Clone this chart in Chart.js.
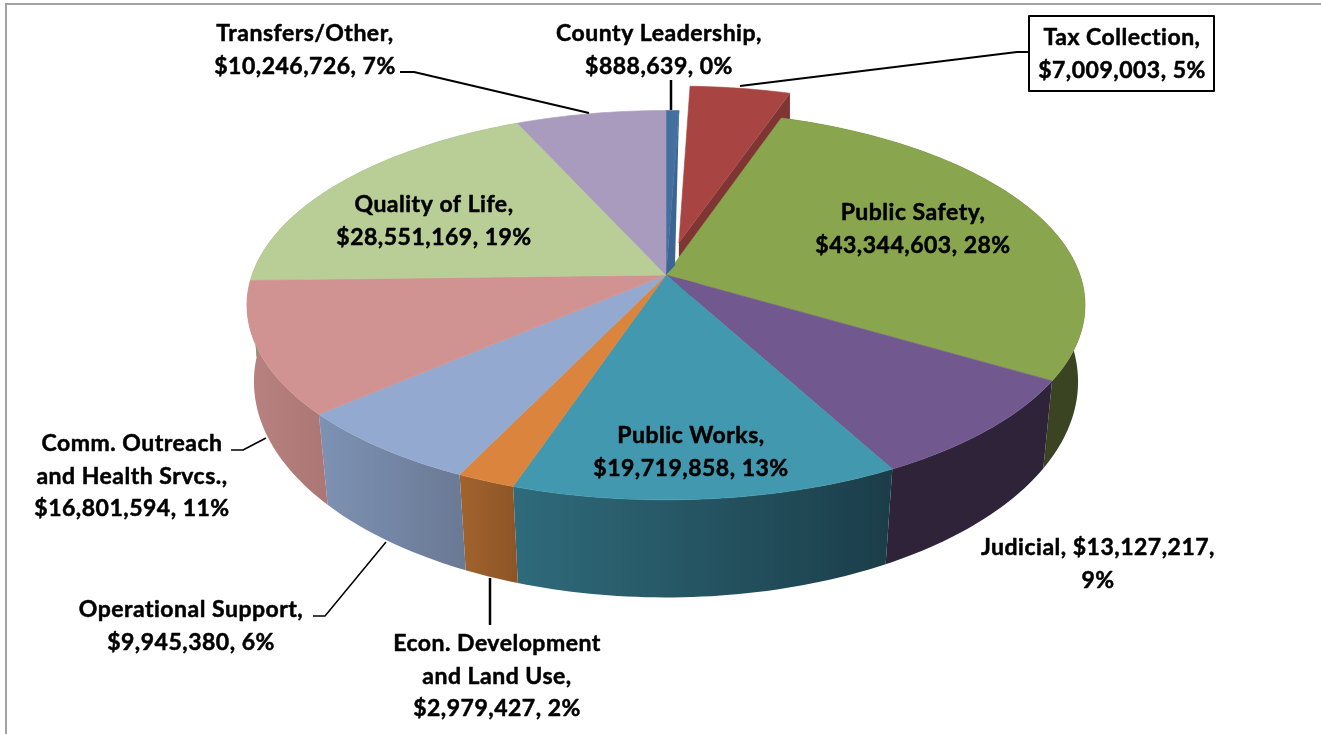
<!DOCTYPE html>
<html>
<head>
<meta charset="utf-8">
<title>County budget by function</title>
<script src="https://cdn.jsdelivr.net/npm/chart.js@4"></script>
<style>
  html, body { margin: 0; padding: 0; background: #fff; }
  canvas { display: block; }
</style>
</head>
<body>
<canvas id="budgetChart" width="1321" height="734"></canvas>
<script>
// Data
const categories = ['County Leadership', 'Tax Collection', 'Public Safety', 'Judicial', 'Public Works',
  'Econ. Development\nand Land Use', 'Operational Support', 'Comm. Outreach\nand Health Srvcs.', 'Quality of Life', 'Transfers/Other'];
const amounts = [888639, 7009003, 43344603, 13127217, 19719858, 2979427, 9945380, 16801594, 28551169, 10246726];
const percents = [0, 5, 28, 9, 13, 2, 6, 11, 19, 7];

// Colours
const faceColors = ['#44709f', '#a84442', '#89a54e', '#71588f', '#4198af', '#db843d', '#93a9cf', '#d19392', '#b9cd96', '#a99bbd'];
const wallLeft = ['#3c6594', '#7f3533', '#3a4422', '#2e2339', '#2f6b7b', '#a2632d', '#7d92b4', '#b88280', '#8a9a70', '#7d7290'];
const wallRight = ['#3c6594', '#7f3533', '#3a4422', '#2e2339', '#1b3d49', '#8c5527', '#6a7994', '#ab7674', '#8a9a70', '#7d7290'];
const sliceOffsets = [0, 60, 0, 0, 0, 0, 0, 0, 0, 0];

// Label placement, one per category: x centre, y of first line, breakMoney keeps money on the name line
const labelPlaces = [
  { x: 659, y: 34 },
  { x: 1122, y: 38, box: [1029, 16, 185, 75] },
  { x: 913, y: 213 },
  { x: 1098, y: 548, breakMoney: true },
  { x: 691, y: 436 },
  { x: 497, y: 644 },
  { x: 191, y: 610 },
  { x: 132, y: 444 },
  { x: 434, y: 205 },
  { x: 305, y: 34 }
];
const lineHeight = 32.3;

// Leader lines [x, y, ...]
const leaders = [
  { pts: [400, 72, 414, 72, 589, 113], w: 2 },
  { pts: [671, 80, 671, 110], w: 2.5 },
  { pts: [740, 86, 1017, 52, 1029, 52], w: 2 },
  { pts: [231, 450, 243, 450, 266, 438], w: 1.5 },
  { pts: [313, 616, 325, 616, 386, 542], w: 1.5 },
  { pts: [490, 578, 490, 625], w: 2.5 }
];

// Perspective of the disc: top plane and bottom plane of the pie
const topPlane = { a: 414, b: 190, y0: 275, p: 0.155 };
const bottomPlane = { a: 408, b: 211.5, y0: 351.5, p: 0.14 };

function project(cx, u, v, plane) {
  const k = 1 - plane.p * v;
  return [cx + plane.a * u / k, plane.y0 + plane.b * v / k];
}

function arcPoints(arc, plane, from, to) {
  const midAngle = (arc.startAngle + arc.endAngle) / 2;
  const shift = (arc.options.offset || 0) / arc.outerRadius;
  const ox = Math.cos(midAngle) * shift;
  const oy = Math.sin(midAngle) * shift;
  const steps = Math.max(2, Math.ceil((to - from) / 0.02));
  const pts = [];
  for (let i = 0; i <= steps; i++) {
    const t = from + (to - from) * i / steps;
    pts.push(project(arc.x, Math.cos(t) + ox, Math.sin(t) + oy, plane));
  }
  return pts;
}

function apexPoint(arc, plane) {
  const midAngle = (arc.startAngle + arc.endAngle) / 2;
  const shift = (arc.options.offset || 0) / arc.outerRadius;
  return project(arc.x, Math.cos(midAngle) * shift, Math.sin(midAngle) * shift, plane);
}

function fillPoly(ctx, pts, color) {
  ctx.beginPath();
  pts.forEach((p, i) => i ? ctx.lineTo(p[0], p[1]) : ctx.moveTo(p[0], p[1]));
  ctx.closePath();
  ctx.fillStyle = color;
  ctx.fill();
}

function drawWall(ctx, arc, i) {
  const upper = arcPoints(arc, topPlane, arc.startAngle, arc.endAngle);
  const lower = arcPoints(arc, bottomPlane, arc.startAngle, arc.endAngle);
  const xs = upper.concat(lower).map(p => p[0]);
  const grad = ctx.createLinearGradient(Math.min(...xs), 0, Math.max(...xs), 0);
  grad.addColorStop(0, wallLeft[i]);
  grad.addColorStop(1, wallRight[i]);
  fillPoly(ctx, upper.concat(lower.reverse()), grad);
}

function drawFace(ctx, arc, i) {
  const pts = [apexPoint(arc, topPlane)].concat(arcPoints(arc, topPlane, arc.startAngle, arc.endAngle));
  fillPoly(ctx, pts, faceColors[i]);
  ctx.strokeStyle = faceColors[i];
  ctx.lineWidth = 0.6;
  ctx.stroke();
}

// exploded slice shows its cut side next to the neighbour
function drawCutSide(ctx, arc, i) {
  const upper = arcPoints(arc, topPlane, arc.endAngle, arc.endAngle);
  const lower = arcPoints(arc, bottomPlane, arc.endAngle, arc.endAngle);
  fillPoly(ctx, [apexPoint(arc, topPlane), upper[0], lower[0], apexPoint(arc, bottomPlane)], wallLeft[i]);
}

// the slice before the exploded one has its cut side open too, a thin sliver
function drawOpenSide(ctx, arc, i) {
  const t = arc.endAngle;
  const rim = project(arc.x, Math.cos(t), Math.sin(t), topPlane);
  const near = project(arc.x, Math.cos(t) * 0.05 + 0.02, Math.sin(t) * 0.05, topPlane);
  fillPoly(ctx, [apexPoint(arc, topPlane), rim, near], wallLeft[i]);
}

function money(n) {
  return '$' + n.toLocaleString('en-US');
}

function labelLines(i) {
  const names = categories[i].split('\n');
  if (labelPlaces[i].breakMoney) {
    return [names.join(' ') + ', ' + money(amounts[i]) + ',', percents[i] + '%'];
  }
  names[names.length - 1] += ',';
  return names.concat(money(amounts[i]) + ', ' + percents[i] + '%');
}

const pie3d = {
  id: 'pie3d',
  beforeDraw(chart) {
    const ctx = chart.ctx;
    ctx.save();
    ctx.fillStyle = '#fff';
    ctx.fillRect(0, 0, chart.width, chart.height);
    ctx.strokeStyle = '#a3a3a3';
    ctx.lineWidth = 2;
    ctx.beginPath();
    ctx.moveTo(6, chart.height);
    ctx.lineTo(6, 4);
    ctx.lineTo(chart.width, 4);
    ctx.stroke();
    ctx.restore();
  },
  beforeDatasetDraw(chart) {
    const ctx = chart.ctx;
    const arcs = chart.getDatasetMeta(0).data;
    ctx.save();
    arcs.forEach((arc, i) => {
      const mid = (arc.startAngle + arc.endAngle) / 2;
      if (arc.options.offset) drawCutSide(ctx, arc, i);
      else if (Math.sin(mid) > -0.7) drawWall(ctx, arc, i); // back walls are hidden anyway
    });
    arcs.forEach((arc, i) => drawFace(ctx, arc, i));
    arcs.forEach((arc, i) => {
      const next = arcs[i + 1];
      if (next && next.options.offset) drawOpenSide(ctx, arc, i);
    });
    ctx.restore();
    return false; // we paint the slices ourselves
  },
  afterDraw(chart) {
    const ctx = chart.ctx;
    ctx.save();
    ctx.strokeStyle = '#000';
    ctx.lineJoin = 'round';
    leaders.forEach(l => {
      ctx.lineWidth = l.w;
      ctx.beginPath();
      for (let i = 0; i < l.pts.length; i += 2) {
        if (i) ctx.lineTo(l.pts[i], l.pts[i + 1]);
        else ctx.moveTo(l.pts[i], l.pts[i + 1]);
      }
      ctx.stroke();
    });
    ctx.font = 'bold 23px Lato';
    ctx.letterSpacing = '0.5px';
    ctx.textAlign = 'center';
    ctx.textBaseline = 'middle';
    categories.forEach((c, i) => {
      const place = labelPlaces[i];
      if (place.box) {
        ctx.fillStyle = '#fff';
        ctx.fillRect(...place.box);
        ctx.lineWidth = 2;
        ctx.strokeRect(...place.box);
      }
      ctx.fillStyle = '#000';
      ctx.lineWidth = 0.5;
      labelLines(i).forEach((line, n) => {
        ctx.fillText(line, place.x, place.y + n * lineHeight);
        ctx.strokeText(line, place.x, place.y + n * lineHeight);
      });
    });
    ctx.restore();
  }
};

new Chart(document.getElementById('budgetChart'), {
  type: 'pie',
  data: {
    labels: categories,
    datasets: [{
      data: amounts,
      backgroundColor: faceColors,
      offset: sliceOffsets,
      borderWidth: 0
    }]
  },
  options: {
    responsive: false,
    animation: false,
    layout: { padding: { left: 11 } },
    plugins: { legend: { display: false }, tooltip: { enabled: false } }
  },
  plugins: [pie3d]
});
</script>
</body>
</html>
